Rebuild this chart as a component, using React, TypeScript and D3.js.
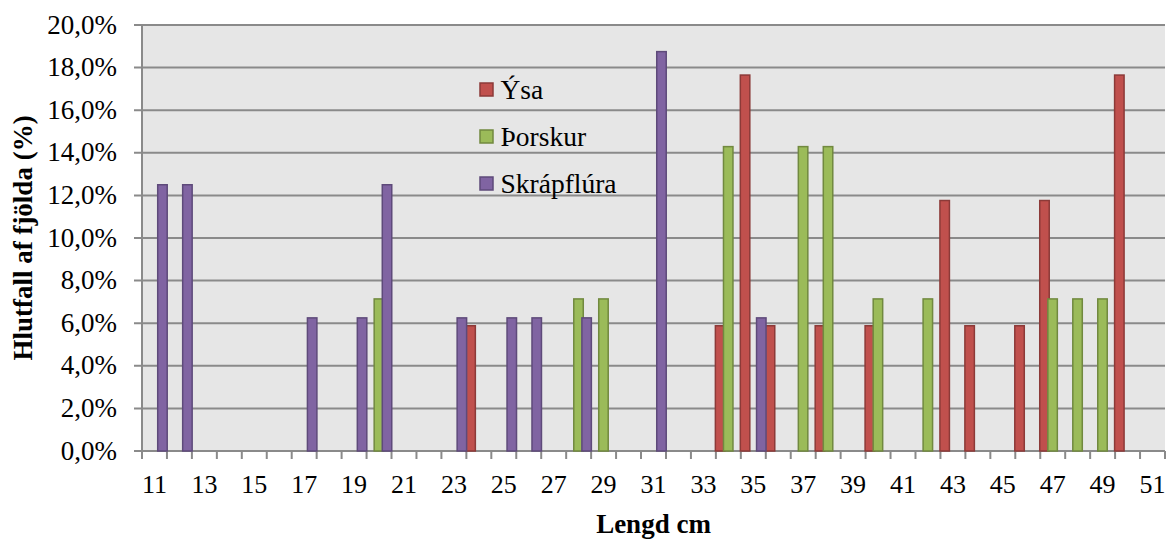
import React from "react";
import * as d3 from "d3";

const categories = [
  11, 12, 13, 14, 15, 16, 17, 18, 19, 20,
  21, 22, 23, 24, 25, 26, 27, 28, 29, 30,
  31, 32, 33, 34, 35, 36, 37, 38, 39, 40,
  41, 42, 43, 44, 45, 46, 47, 48, 49, 50,
  51,
];

const ysa = [
  0, 0, 0, 0, 0, 0, 0, 0, 0, 0,
  0, 0, 0, 5.88, 0, 0, 0, 0, 0, 0,
  0, 0, 0, 5.88, 17.65, 5.88, 0, 5.88, 0, 5.88,
  0, 0, 11.76, 5.88, 0, 5.88, 11.76, 0, 0, 17.65,
  0,
];

const thorskur = [
  0, 0, 0, 0, 0, 0, 0, 0, 0, 7.14,
  0, 0, 0, 0, 0, 0, 0, 7.14, 7.14, 0,
  0, 0, 0, 14.29, 0, 0, 14.29, 14.29, 0, 7.14,
  0, 7.14, 0, 0, 0, 0, 7.14, 7.14, 7.14, 0,
  0,
];

const skrapflura = [
  12.5, 12.5, 0, 0, 0, 0, 6.25, 0, 6.25, 12.5,
  0, 0, 6.25, 0, 6.25, 6.25, 0, 6.25, 0, 0,
  18.75, 0, 0, 0, 6.25, 0, 0, 0, 0, 0,
  0, 0, 0, 0, 0, 0, 0, 0, 0, 0,
  0,
];

const seriesNames = ["Ýsa", "Þorskur", "Skrápflúra"];
const seriesValues = [ysa, thorskur, skrapflura];
const seriesFill = ["#C0504D", "#9BBB59", "#8064A2"];
const seriesStroke = ["#8C3A38", "#71893F", "#5E4A7A"];

const yTicks = [0, 2, 4, 6, 8, 10, 12, 14, 16, 18, 20];
const xLabelCats = [11, 13, 15, 17, 19, 21, 23, 25, 27, 29, 31, 33, 35, 37, 39, 41, 43, 45, 47, 49, 51];

const W = 1173;
const H = 541;
const left = 142;
const right = 1165;
const top = 25;
const bottom = 451;

const FONT = "'Liberation Serif', 'Times New Roman', serif";

export default function App() {
  const x = d3.scaleBand<number>().domain(categories).range([left, right]).padding(0);
  const y = d3.scaleLinear().domain([0, 20]).range([bottom, top]);
  const bw = x.bandwidth();
  const step = bw * 0.325;
  const barW = bw * 0.38;
  const fmt = (v: number) => v.toFixed(1).replace(".", ",") + "%";

  const boundaries = categories.map((c) => x(c)!).concat([right]);

  return (
    <svg
      width={W}
      height={H}
      style={{ position: "absolute", left: 0, top: 0, background: "#fff" }}
      fontFamily={FONT}
    >
      <rect x={left} y={top} width={right - left} height={bottom - top} fill="#E6E6E6" />
      {yTicks.map((t) => (
        <line
          key={"g" + t}
          x1={134}
          x2={right}
          y1={y(t)}
          y2={y(t)}
          stroke="#8A8A8A"
          strokeWidth={2}
        />
      ))}
      <line x1={left} x2={left} y1={top} y2={bottom} stroke="#8A8A8A" strokeWidth={2} />
      {boundaries.map((bx, i) => (
        <line key={"xt" + i} x1={bx} x2={bx} y1={bottom} y2={bottom + 8} stroke="#8A8A8A" strokeWidth={2} />
      ))}
      {seriesValues.map((vals, k) => (
        <g key={"s" + k}>
          {categories.map((c, i) =>
            vals[i] > 0 ? (
              <rect
                key={c}
                x={x(c)! + k * step - 0.5}
                y={y(vals[i])}
                width={barW}
                height={bottom - y(vals[i])}
                fill={seriesFill[k]}
                stroke={seriesStroke[k]}
                strokeWidth={1.5}
              />
            ) : null
          )}
        </g>
      ))}
      {yTicks.map((t) => (
        <text key={"yl" + t} x={117} y={y(t) + 8.5} textAnchor="end" fontSize={27} fill="#000">
          {fmt(t)}
        </text>
      ))}
      {xLabelCats.map((c) => (
        <text key={"xl" + c} x={x(c)! + bw / 2} y={493} textAnchor="middle" fontSize={26} fill="#000">
          {c}
        </text>
      ))}
      {seriesNames.map((n, k) => {
        const cy = 90 + k * 47;
        return (
          <g key={"lg" + k}>
            <rect x={480} y={cy - 7} width={13} height={13} fill={seriesFill[k]} stroke={seriesStroke[k]} strokeWidth={1.5} />
            <text x={500.5} y={cy + 9} fontSize={27.5} fill="#000">
              {n}
            </text>
          </g>
        );
      })}
      <text
        transform={`translate(31.5, ${(top + bottom) / 2}) rotate(-90)`}
        textAnchor="middle"
        fontSize={27}
        fontWeight="bold"
        fill="#000"
      >
        Hlutfall af fjölda (%)
      </text>
      <text x={(left + right) / 2} y={533} textAnchor="middle" fontSize={27} fontWeight="bold" fill="#000">
        Lengd cm
      </text>
    </svg>
  );
}
